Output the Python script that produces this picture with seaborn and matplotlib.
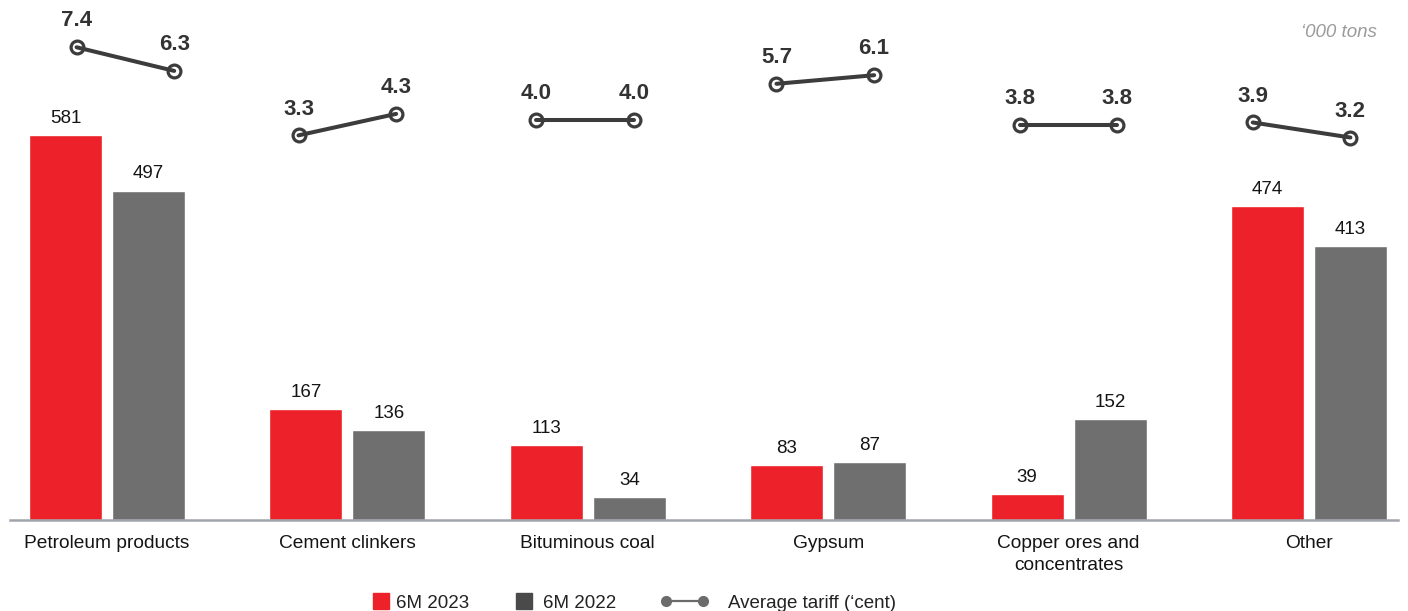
import numpy as np
import pandas as pd
import matplotlib
matplotlib.use("Agg")
import matplotlib.pyplot as plt
from matplotlib.lines import Line2D
import seaborn as sns

# ---- data -------------------------------------------------------------
categories = ["Petroleum products", "Cement clinkers", "Bituminous coal",
              "Gypsum", "Copper ores and\nconcentrates", "Other"]
periods = ["6M 2023", "6M 2022"]
volume_2023 = [581, 167, 113, 83, 39, 474]
volume_2022 = [497, 136, 34, 87, 152, 413]
tariff_2023 = [7.4, 3.3, 4.0, 5.7, 3.8, 3.9]
tariff_2022 = [6.3, 4.3, 4.0, 6.1, 3.8, 3.2]

# horizontal nudge of each tariff pair relative to its category (layout only)
tariff_nudge = [0.077, 0.0, -0.012, -0.012, 0.0, -0.031]

RED = "#EC2129"
GRAY = "#6F6F6F"
LEGEND_GRAY = "#4A4A4A"
LINE = "#3C3C3C"
TEXT = "#141414"

sns.set_theme(style="white")
plt.rcParams["font.family"] = ["Liberation Sans", "DejaVu Sans"]

bars = pd.DataFrame({
    "category": categories * 2,
    "period": [periods[0]] * len(categories) + [periods[1]] * len(categories),
    "volume": volume_2023 + volume_2022,
})

fig = plt.figure(figsize=(14.08, 6.11), dpi=100)
ax = fig.add_axes([0.0071, 0.149, 0.9858, 0.851])

sns.barplot(data=bars, x="category", y="volume", hue="period",
            order=categories, hue_order=periods, palette=[RED, GRAY],
            width=0.69, gap=0.12, saturation=1, legend=False, ax=ax)

for cont, vals in zip(ax.containers, [volume_2023, volume_2022]):
    ax.bar_label(cont, labels=[str(v) for v in vals], padding=6,
                 fontsize=13.5, color=TEXT)

ax.set_xlim(-0.403, 5.37)
ax.set_ylim(0, 785)
ax.set_xlabel("")
ax.set_ylabel("")
ax.set_yticks([])
for side in ["top", "left", "right"]:
    ax.spines[side].set_visible(False)
ax.spines["bottom"].set_color("#A0A4AB")
ax.spines["bottom"].set_linewidth(1.8)
ax.tick_params(axis="x", length=0, pad=11, labelsize=13.8, labelcolor=TEXT)
for lbl in ax.get_xticklabels():
    lbl.set_linespacing(1.4)

# ---- average tariff on a secondary scale ---------------------------------
ax2 = ax.twinx()
ax2.set_ylim(-14.6, 9.6)
ax2.set_yticks([])
for side in ["top", "left", "right", "bottom"]:
    ax2.spines[side].set_visible(False)

idx = np.arange(len(categories)) + np.array(tariff_nudge)
tariffs = pd.DataFrame({
    "group": np.concatenate([np.arange(len(categories))] * 2),
    "x": np.concatenate([idx - 0.203, idx + 0.203]),
    "tariff": tariff_2023 + tariff_2022,
})

sns.scatterplot(data=tariffs, x="x", y="tariff", ax=ax2, s=85,
                facecolor="white", edgecolor=LINE, linewidth=2.3,
                zorder=3, legend=False)
sns.lineplot(data=tariffs, x="x", y="tariff", units="group", estimator=None,
             color=LINE, linewidth=2.9, ax=ax2, zorder=4, legend=False)

for x, v in zip(tariffs["x"], tariffs["tariff"]):
    ax2.annotate(f"{v:.1f}", (x, v), xytext=(0, 15), textcoords="offset points",
                 ha="center", va="baseline", fontsize=16, fontweight="bold",
                 color="#333333")
ax2.set_xlabel("")
ax2.set_ylabel("")

fig.text(0.978, 0.946, "\u2018000 tons", ha="right", va="center",
         fontsize=13.5, style="italic", color="#9B9B9B")

# ---- legend ------------------------------------------------------------
common = dict(loc="center left", frameon=False, borderpad=0, borderaxespad=0,
              fontsize=13.5, labelcolor="#222222")
sq1 = Line2D([], [], marker="s", linestyle="none", markersize=11,
             markerfacecolor=RED, markeredgecolor=RED)
sq2 = Line2D([], [], marker="s", linestyle="none", markersize=11,
             markerfacecolor=LEGEND_GRAY, markeredgecolor=LEGEND_GRAY)
ln = Line2D([], [], color="#6B6B6B", linewidth=1.6, marker="o",
            markersize=7, markerfacecolor="#6B6B6B", markeredgecolor="#6B6B6B")

fig.legend([sq1], [periods[0]], bbox_to_anchor=(373 / 1408, 0.013),
           handlelength=0.85, handletextpad=0.4, **common)
fig.legend([sq2], [periods[1]], bbox_to_anchor=(516 / 1408, 0.013),
           handlelength=0.85, handletextpad=0.6, **common)
fig.legend([ln], ["Average tariff (\u2018cent)"],
           bbox_to_anchor=(660 / 1408, 0.013), numpoints=2,
           handlelength=2.6, handletextpad=1.0, **common)

fig.savefig("out.png", dpi=100)
